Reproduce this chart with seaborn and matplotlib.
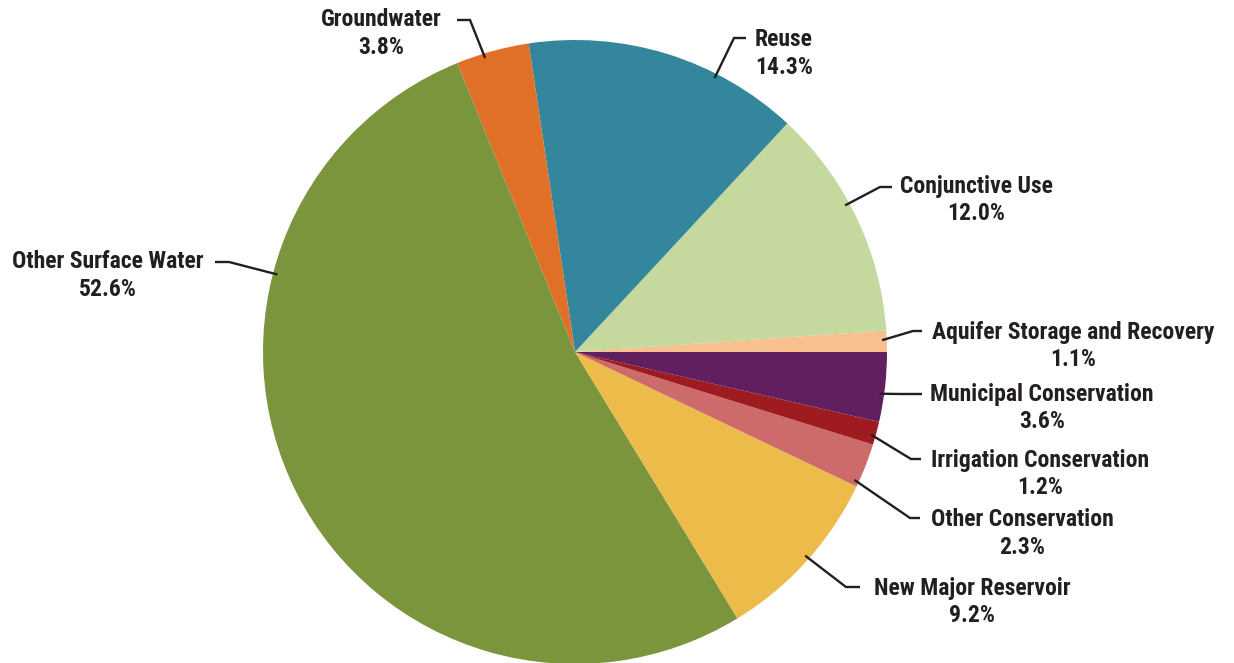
import numpy as np
import matplotlib
matplotlib.use("Agg")
import matplotlib.pyplot as plt
import seaborn as sns

# ---- data ----
categories = ["Aquifer Storage and Recovery", "Conjunctive Use", "Reuse", "Groundwater",
              "Other Surface Water", "New Major Reservoir", "Other Conservation",
              "Irrigation Conservation", "Municipal Conservation"]
shares = [1.1, 12.0, 14.3, 3.8, 52.6, 9.2, 2.3, 1.2, 3.6]
colors = ["#F9C08F", "#C5D89D", "#33869B", "#E07027", "#7A953C",
          "#EDBB4A", "#CC6B6A", "#9E1C20", "#621F60"]

# ---- layout (pixels in a 1234x663 canvas) ----
W, H = 1234, 663
CX, CY, R = 575, 352, 312
# anchor angle on rim (deg), elbow px, horizontal end px, text px (name line), alignment
layout = {
    "Groundwater": (107.0, (470, 20), (457, 20), (381, 20), "center"),
    "Reuse": (63.0, (734, 38), (746, 38), (755, 40), "left"),
    "Conjunctive Use": (28.5, (880, 187), (892, 187), (976, 187), "center"),
    "Other Surface Water": (165.4, (229, 262), (215, 262), (108, 262), "center"),
    "Aquifer Storage and Recovery": (2.2, (913, 331), (922, 331), (1073, 333), "center"),
    "Municipal Conservation": (-7.8, (900, 394), (922, 394), (1042, 395), "center"),
    "Irrigation Conservation": (-15.6, (911, 459), (921, 459), (1040, 460), "center"),
    "Other Conservation": (-24.6, (910, 518), (920, 518), (1022, 520), "center"),
    "New Major Reservoir": (-41.5, (846, 587), (860, 587), (972, 588), "center"),
}

sns.set_theme(style="white")
plt.rcParams["font.family"] = ["Roboto Condensed", "Archivo Narrow", "Barlow Semi Condensed", "DejaVu Sans"]

def px(x, y):
    return ((x - CX) / R, (CY - y) / R)

fig = plt.figure(figsize=(W / 100, H / 100), dpi=100)
ax = fig.add_axes([0, 0, 1, 1])
ax.pie(shares, colors=colors, startangle=0, counterclock=True, radius=1.0,
       center=(0, 0), wedgeprops=dict(linewidth=0))
ax.set_xlim(-CX / R, (W - CX) / R)
ax.set_ylim(-(H - CY) / R, CY / R)
ax.set_aspect("equal")
ax.axis("off")

txt_color = "#231F20"
for cat, val in zip(categories, shares):
    ang, elbow, hend, tpos, ha = layout[cat]
    a = np.deg2rad(ang)
    start = (0.985 * np.cos(a), 0.985 * np.sin(a))
    e = px(*elbow)
    h = px(*hend)
    ax.plot([start[0], e[0], h[0]], [start[1], e[1], h[1]], color=txt_color,
            lw=1.7, solid_capstyle="butt", solid_joinstyle="miter")
    tx, ty = px(*tpos)
    ty2 = px(tpos[0], tpos[1] + 27)[1]
    ax.text(tx, ty, cat, ha=ha, va="center", fontsize=17, fontweight="bold", color=txt_color)
    ax.text(tx, ty2, f"{val:.1f}%", ha=ha, va="center", fontsize=17, fontweight="bold", color=txt_color)

fig.savefig("out.png", dpi=100, facecolor="white")
